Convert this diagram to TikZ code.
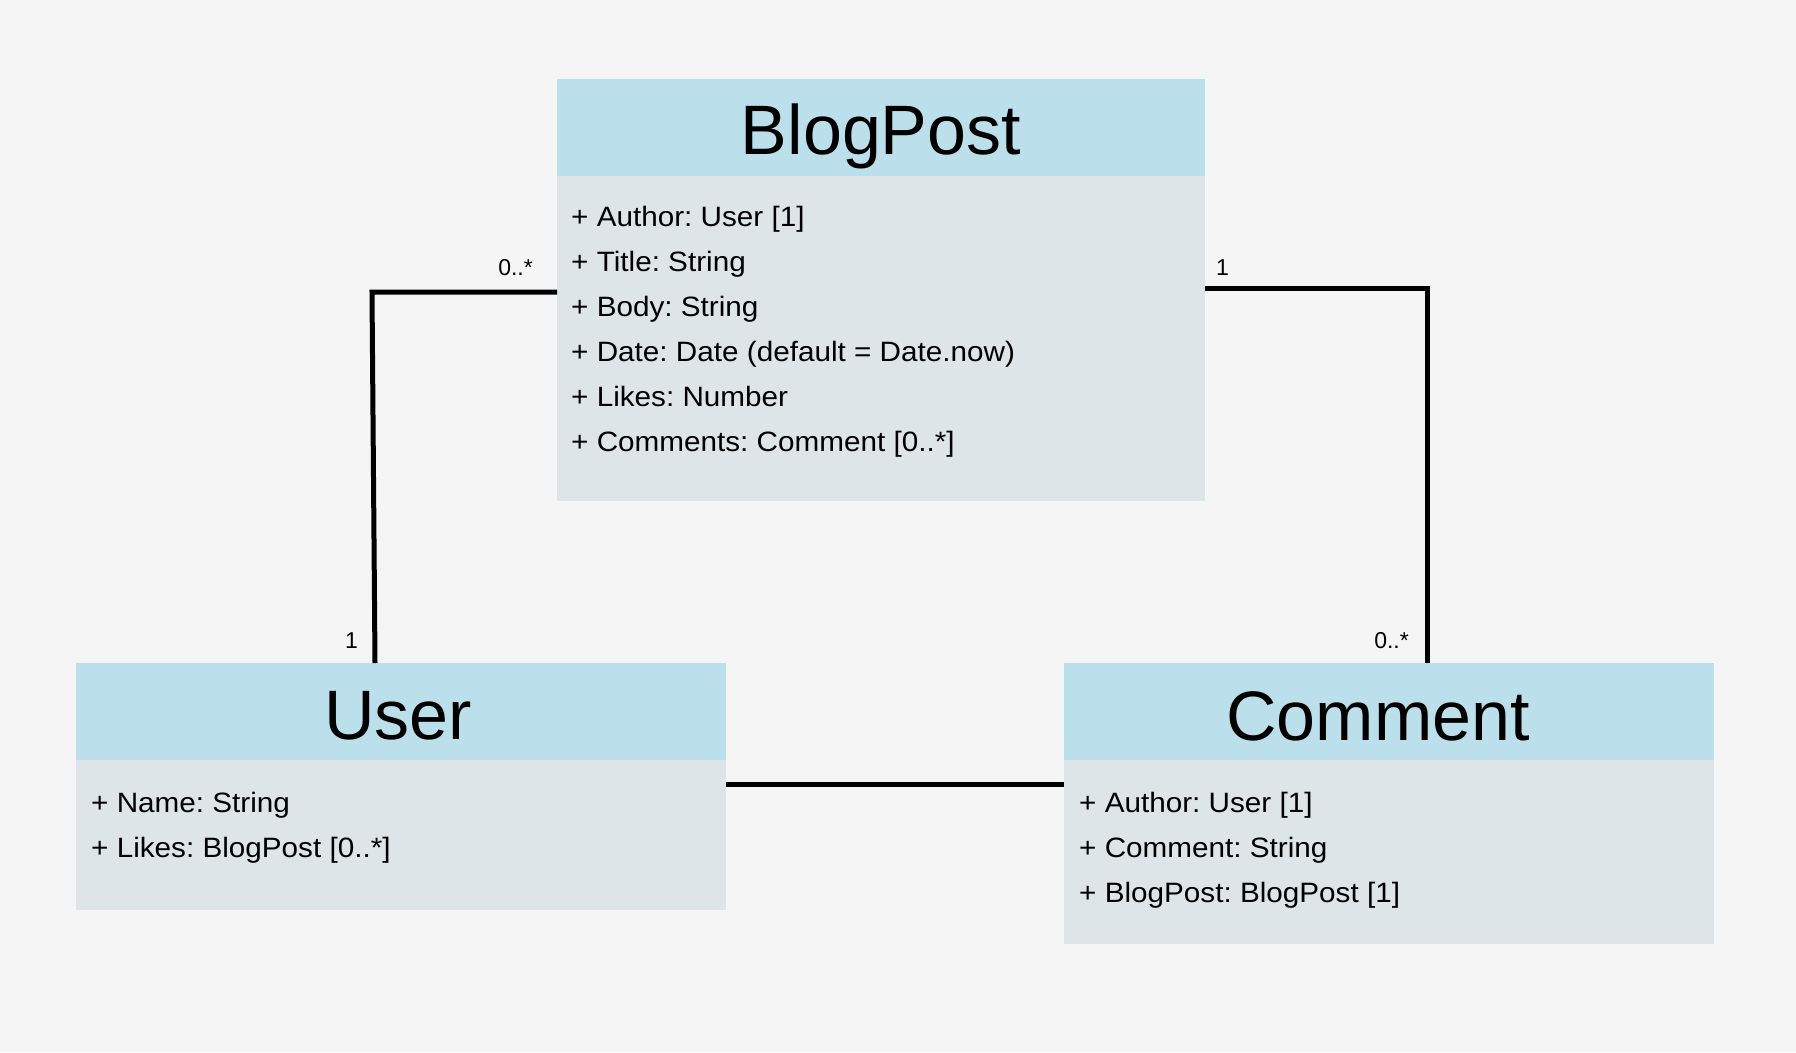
\documentclass[tikz,border=0pt]{standalone}
\usepackage{fontspec}
\setmainfont{Liberation Sans}
\newfontfamily\attrfont[FakeStretch=1.06]{Liberation Sans}
\frenchspacing
\definecolor{bgcol}{RGB}{245,245,245}
\definecolor{headcol}{RGB}{187,224,235}
\definecolor{bodycol}{RGB}{221,229,232}
\begin{document}
\begin{tikzpicture}[x=1pt,y=-1pt,
  bodybox/.style={rectangle,fill=bodycol,draw=none,inner sep=0pt,outer sep=0pt,anchor=north west},
  headbox/.style={rectangle,fill=headcol,draw=none,inner sep=0pt,outer sep=0pt,anchor=north west,minimum height=97pt},
  titletext/.style={inner sep=0pt,anchor=base,font=\fontsize{70}{80}\selectfont},
  attr/.style={inner sep=0pt,anchor=base west,font=\attrfont\fontsize{28}{34}\selectfont},
  mult/.style={inner sep=0pt,font=\fontsize{23}{28}\selectfont},
  assoc/.style={line width=5pt,draw=black,line join=miter}]
\path[use as bounding box,fill=bgcol] (0,0) rectangle (1796,1052);

% BlogPost
\node[bodybox,minimum width=648pt,minimum height=422pt] (bp) at (557,79) {};
\node[headbox,minimum width=648pt] (bph) at (bp.north west) {};
\node[titletext] (bpt) at ([yshift=-75pt]bph.north) {BlogPost};
\node[attr] (bpa1) at (571,226) {+ Author: User [1]};
\node[attr] (bpa2) at (571,271) {+ Title: String};
\node[attr] (bpa3) at (571,316) {+ Body: String};
\node[attr] (bpa4) at (571,361) {+ Date: Date (default = Date.now)};
\node[attr] (bpa5) at (571,406) {+ Likes: Number};
\node[attr] (bpa6) at (571,451) {+ Comments: Comment [0..*]};

% User
\node[bodybox,minimum width=650pt,minimum height=247pt] (us) at (76,663) {};
\node[headbox,minimum width=650pt] (ush) at (us.north west) {};
\node[titletext] (ust) at ([xshift=-3pt,yshift=-76pt]ush.north) {User};
\node[attr] (usa1) at (91,812) {+ Name: String};
\node[attr] (usa2) at (91,857) {+ Likes: BlogPost [0..*]};

% Comment
\node[bodybox,minimum width=650pt,minimum height=281pt] (cm) at (1064,663) {};
\node[headbox,minimum width=650pt] (cmh) at (cm.north west) {};
\node[titletext] (cmt) at ([xshift=-11pt,yshift=-77pt]cmh.north) {Comment};
\node[attr] (cma1) at (1079,812) {+ Author: User [1]};
\node[attr] (cma2) at (1079,857) {+ Comment: String};
\node[attr] (cma3) at (1079,902) {+ BlogPost: BlogPost [1]};

% connectors
\coordinate (lk) at (372,292);
\coordinate (lu) at (375,663);
\coordinate (rk) at (1427,288);
\coordinate (rc) at (1427,663);
\draw[assoc] (bp.west |- lk) -- (lk) -- (lu);
\draw[assoc] (bp.east |- rk) -- (rk) -- (rc);
\draw[assoc] (us.east |- 0,784) -- (cm.west |- 0,784);

% multiplicities
\node[mult,anchor=base east] (m1) at (533,275) {0..*};
\node[mult,anchor=base west] (m2) at (1216,275) {1};
\node[mult,anchor=base east] (m3) at (358,648) {1};
\node[mult,anchor=base east] (m4) at (1409,648) {0..*};
\end{tikzpicture}
\end{document}
